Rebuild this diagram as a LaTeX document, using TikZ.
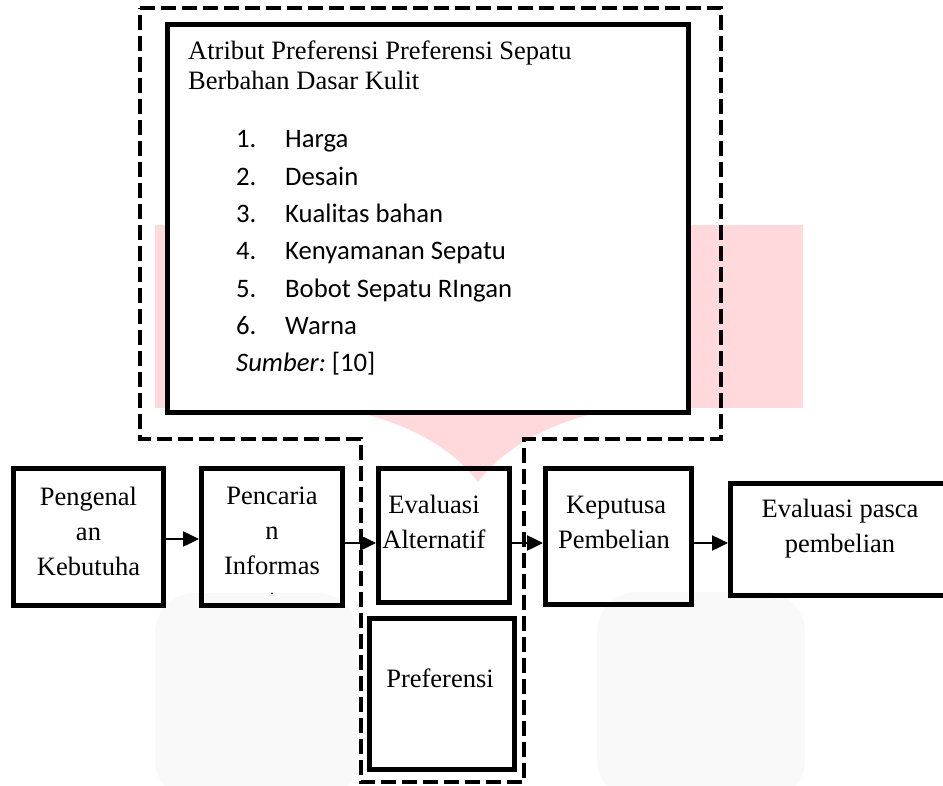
\documentclass[tikz,border=0pt]{standalone}
\usepackage{fontspec}
\setmainfont{Liberation Serif}
\newfontfamily\listfont{Carlito}
\usetikzlibrary{arrows.meta}

\definecolor{markpink}{RGB}{255,217,219}
\definecolor{markgrey}{RGB}{249,249,249}

\begin{document}
\begin{tikzpicture}[x=1pt,y=-1pt]
\tikzset{
  stagebox/.style={rectangle,draw=black,line width=5pt,inner sep=0pt},
  stagetext/.style={align=center,inner sep=0pt,anchor=base,font=\fontsize{26.5}{35}\selectfont},
  listtext/.style={anchor=base west,inner sep=0pt,font=\listfont\fontsize{26.7}{32}\selectfont},
  flow/.style={draw=black,line width=2.5pt,-{Triangle[length=16pt,width=15pt]}},
  groupline/.style={draw=black,line width=4.5pt,dash pattern=on 15pt off 6pt}
}
\useasboundingbox (0,0) rectangle (943,786);
\clip (0,0) rectangle (943,786);
% watermark behind the chart
\fill[markgrey,rounded corners=40pt] (155,800) -- (155,593) -- (357,593) -- (357,800) -- cycle;
\fill[markgrey,rounded corners=40pt] (597,800) -- (597,592) -- (805,592) -- (805,800) -- cycle;
\fill[markpink] (155,225) rectangle (803,408);
\fill[markpink] (330,407) .. controls (400,418) and (450,445) .. (478,482)
  .. controls (506,445) and (556,418) .. (626,407) -- cycle;
% group outline
\draw[groupline] (140,8) -- (721,8) -- (721,439) -- (524,439) -- (524,782)
  -- (361,782) -- (361,439) -- (140,439) -- cycle;
% attribute box
\node[stagebox,fill=white,minimum width=521pt,minimum height=388pt] (n_atribut) at (428,218.5) {};
\node[inner sep=0pt,anchor=base west,align=left,font=\fontsize{26.5}{30}\selectfont] (t_atribut) at (188,90)
  {Atribut Preferensi Preferensi Sepatu\\Berbahan Dasar Kulit};
\node[listtext] (t_no1) at (236,148) {1.};
\node[listtext] (t_it1) at (285,148) {Harga};
\node[listtext] (t_no2) at (236,185.3) {2.};
\node[listtext] (t_it2) at (285,185.3) {Desain};
\node[listtext] (t_no3) at (236,222.6) {3.};
\node[listtext] (t_it3) at (285,222.6) {Kualitas bahan};
\node[listtext] (t_no4) at (236,259.9) {4.};
\node[listtext] (t_it4) at (285,259.9) {Kenyamanan Sepatu};
\node[listtext] (t_no5) at (236,297.2) {5.};
\node[listtext] (t_it5) at (285,297.2) {Bobot Sepatu RIngan};
\node[listtext] (t_no6) at (236,334.5) {6.};
\node[listtext] (t_it6) at (285,334.5) {Warna};
\node[listtext] (t_src) at (236,371.8) {\itshape Sumber:\upshape\ [10]};
% stages
\node[stagebox,minimum width=150pt,minimum height=137pt] (n_kenal) at (88.5,537) {};
\node[stagebox,minimum width=141pt,minimum height=137pt] (n_cari) at (272,537) {};
\node[stagebox,minimum width=131pt,minimum height=134pt] (n_eval) at (444,535.5) {};
\node[stagebox,minimum width=145pt,minimum height=151pt] (n_pref) at (442,694) {};
\node[stagebox,minimum width=146pt,minimum height=136pt] (n_putus) at (618.5,536.5) {};
\node[stagebox,minimum width=219pt,minimum height=112pt] (n_pasca) at (840,539.5) {};
\node[stagetext] (t_kenal) at (88.5,575) {Pengenal\\an\\Kebutuha};
\node[stagetext] (t_cari) at (272,574) {Pencaria\\n\\Informas};
\node[inner sep=0pt,anchor=base,font=\fontsize{14}{16}\selectfont] (t_caridot) at (272,594) {.};
\node[stagetext] (t_eval) at (434,548) {Evaluasi\\Alternatif};
\node[stagetext] (t_pref) at (440,687) {Preferensi};
\node[stagetext] (t_putus) at (614,548) {\,Keputusa\\Pembelian};
\node[stagetext] (t_pasca) at (840,552) {Evaluasi pasca\\pembelian};
% flow
\draw[flow] (n_kenal.east |- 0,539) -- (n_cari.west |- 0,539);
\draw[flow] (n_cari.east |- 0,543) -- (n_eval.west |- 0,543);
\draw[flow] (n_eval.east |- 0,543) -- (n_putus.west |- 0,543);
\draw[flow] (n_putus.east |- 0,543) -- (n_pasca.west |- 0,543);
\end{tikzpicture}
\end{document}
